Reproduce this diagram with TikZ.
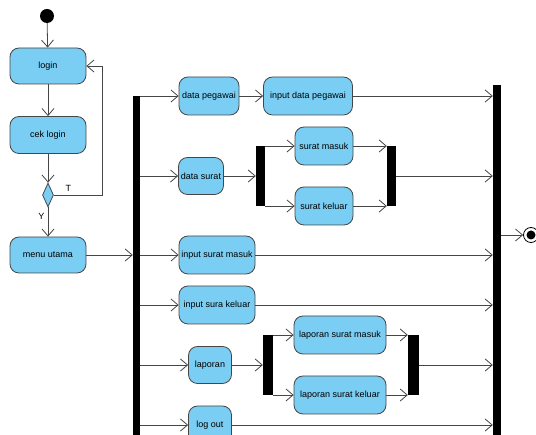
\documentclass[tikz,border=0pt]{standalone}
\usepackage{fontspec}
\setmainfont{Liberation Sans}
\usetikzlibrary{shapes,arrows.meta}

\definecolor{actfill}{RGB}{122,206,244}
\definecolor{actline}{RGB}{70,70,70}

\begin{document}
\begin{tikzpicture}[x=1pt,y=-1pt]
\tikzstyle{act}=[rectangle,rounded corners=9pt,draw=actline,fill=actfill,line width=0.8pt,minimum height=38pt,inner sep=1pt,font=\fontsize{9}{10}\selectfont]
\tikzstyle{bar}=[rectangle,fill=black,inner sep=0pt]
\tikzstyle{flow}=[draw=actline,line width=0.8pt,-{Straight Barb[length=7pt,width=12pt]}]
\clip (0,0) rectangle (536,435);
% login part
\node[circle,fill=black,minimum size=14pt,inner sep=0pt] (start) at (47,16) {};
\node[act,minimum width=76pt,minimum height=36pt] (login) at (48,66) {login};
\node[act,minimum width=76pt,minimum height=37pt] (ceklogin) at (48,135) {cek login};
\node[diamond,draw=actline,fill=actfill,line width=0.8pt,inner sep=0pt,minimum width=11pt,minimum height=24pt] (dec) at (48,195) {};
\node[act,minimum width=76pt,minimum height=36pt] (menu) at (48,255) {menu utama};
% bars
\node[bar,minimum width=7pt,minimum height=350pt] (fork1) at (136.5,271) {};
\node[bar,minimum width=9pt,minimum height=60pt] (fork2) at (260.5,176) {};
\node[bar,minimum width=9pt,minimum height=60pt] (join2) at (391.5,176) {};
\node[bar,minimum width=10pt,minimum height=60pt] (fork3) at (268,365) {};
\node[bar,minimum width=11pt,minimum height=60pt] (join3) at (413.5,365) {};
\node[bar,minimum width=8pt,minimum height=360pt] (join1) at (497,265) {};
% menu
\node[act,minimum width=60pt] (pegawai) at (209,96) {data pegawai};
\node[act,minimum width=89pt] (inpegawai) at (308,96) {input data pegawai};
\node[act,minimum width=45pt,minimum height=37pt] (surat) at (201,176) {data surat};
\node[act,minimum width=58pt] (masuk) at (324,146) {surat masuk};
\node[act,minimum width=58pt] (keluar) at (324,206) {surat keluar};
\node[act,minimum width=76pt] (inmasuk) at (217,255) {input surat masuk};
\node[act,minimum width=76pt] (inkeluar) at (217,305) {input sura keluar};
\node[act,minimum width=43pt,minimum height=37pt] (laporan) at (210,365) {laporan};
\node[act,minimum width=92pt] (lapmasuk) at (340,335) {laporan surat masuk};
\node[act,minimum width=92pt] (lapkeluar) at (340,395) {laporan surat keluar};
\node[act,minimum width=43pt] (logout) at (210,425) {log out};
\node[circle,draw=black,line width=0.8pt,minimum size=15pt,inner sep=0pt] (final) at (531,235) {};
\fill[black] (final.center) circle (4.5pt);
% flows
\draw[flow] (start) -- (login);
\draw[flow] (login) -- (ceklogin);
\draw[flow] (ceklogin) -- (dec);
\draw[flow] (dec) -- node[left,pos=0.3,font=\fontsize{9}{10}\selectfont] {Y} (menu);
\draw[flow] (dec.east) -- node[above,pos=0.3,font=\fontsize{9}{10}\selectfont] {T} ++(48,0) |- (login.east);
\draw[flow] (menu) -- (menu -| fork1.west);
\foreach \n in {pegawai,surat,inmasuk,inkeluar,laporan,logout}
  \draw[flow] (\n -| fork1.east) -- (\n);
\draw[flow] (pegawai) -- (inpegawai);
\draw[flow] (surat) -- (surat -| fork2.west);
\draw[flow] (laporan) -- (laporan -| fork3.west);
\foreach \n in {masuk,keluar}{
  \draw[flow] (\n -| fork2.east) -- (\n);
  \draw[flow] (\n) -- (\n -| join2.west);
}
\foreach \n in {lapmasuk,lapkeluar}{
  \draw[flow] (\n -| fork3.east) -- (\n);
  \draw[flow] (\n) -- (\n -| join3.west);
}
\foreach \n in {inpegawai,join2,inmasuk,inkeluar,join3,logout}
  \draw[flow] (\n) -- (\n -| join1.west);
\draw[flow] (final -| join1.east) -- (final);
\end{tikzpicture}
\end{document}
